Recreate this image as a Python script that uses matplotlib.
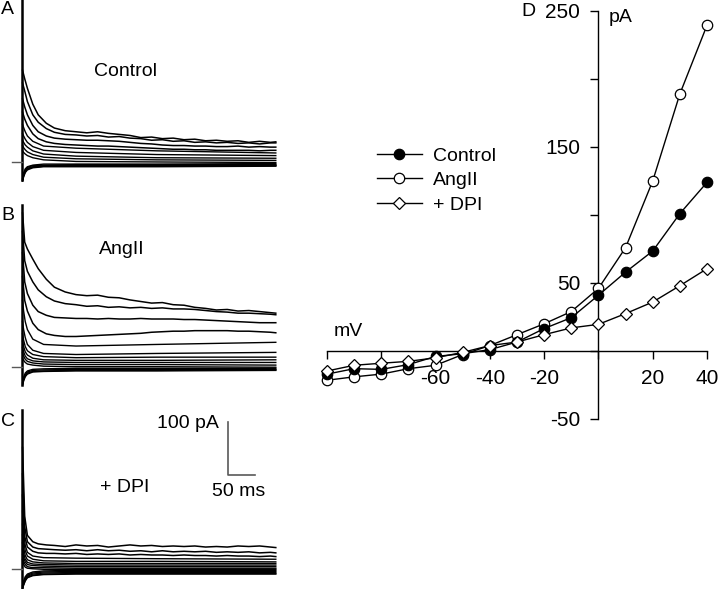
import numpy as np
import matplotlib.pyplot as plt

plt.rcParams['font.family'] = ['Liberation Sans', 'DejaVu Sans']

# ---- panel D: current-voltage relation ----
volts = [-100, -90, -80, -70, -60, -50, -40, -30, -20, -10, 0, 10, 20, 30, 40]
iv_control = [-17, -13, -13.5, -10, -4, -2, 1, 6.6, 16.5, 24.5, 41, 58, 73.5, 101, 124]
iv_angii = [-21.5, -19, -17, -13, -10.5, -2.6, 4, 12, 20, 29, 46, 76, 125, 189, 239.5]
iv_dpi = [-14.7, -10.5, -9, -7.6, -5, -1, 4, 6.6, 12, 17, 19.6, 27.5, 36, 48, 60.5]

x_ticks = [-100, -80, -60, -40, -20, 0, 20, 40]
x_ticklabels = ['', '', '-60', '-40', '-20', '', '20', '40']
y_ticks = [-50, 50, 150, 250]
y_minor = [0, 100, 200]

# ---- panels A-C: current traces (pA) vs time (ms) ----
t_long = [1, 5, 10, 20, 30, 45, 60, 80, 100, 120, 140, 160, 180, 200, 220,
          240, 260, 280, 300, 320, 340, 360, 380, 400, 420, 440, 460, 470]
t_short = [1, 3, 6, 10, 20, 40, 100, 250, 470]

ctrl_long = [
    [174, 158, 140, 110, 90, 74, 65, 60, 58, 56, 58, 55, 53, 51, 47, 48, 45, 46, 43, 44, 41, 42, 40, 41, 38, 40, 38, 39],
    [150, 135, 115, 90, 76, 64, 57, 53, 52, 50, 51, 48, 49, 46, 45, 42, 43, 40, 41, 38, 39, 37, 38, 36, 37, 35, 37, 37],
    [120, 105, 90, 70, 58, 50, 46, 44, 43, 42, 42, 41, 40, 38, 36, 35, 33, 32, 32, 31, 31, 30, 30, 31, 29, 30, 29, 29],
    [95, 82, 70, 54, 45, 39, 36, 34, 33, 32, 31, 31, 30, 29, 28, 27, 26, 25, 25, 24, 24, 23, 23, 23, 23, 22, 23, 23],
]
ctrl_short = [
    [72, 66, 58, 50, 40, 31, 27, 22, 18],
    [55, 50, 44, 38, 30, 23, 19, 15, 13],
    [42, 38, 33, 29, 22, 16, 12, 9, 8],
    [32, 28, 24, 20, 15, 10, 7, 5, 4],
    [22, 19, 16, 13, 9, 5, 2, 1, 0],
    [-30, -20, -12, -8, -5, -3, -3, -3, -2],
    [-32, -22, -14, -9, -6, -5, -4, -4, -4],
    [-33, -24, -16, -11, -8, -6, -6, -6, -5],
    [-34, -26, -18, -12, -9, -7, -7, -7, -6],
    [-35, -27, -19, -14, -10, -8, -8, -8, -7],
]

angii_long = [
    [290, 235, 222, 203, 185, 165, 150, 141, 136, 134, 135, 131, 130, 126, 123, 120, 121, 117, 116, 112, 110, 107, 108, 105, 106, 104, 102, 101],
    [255, 200, 180, 160, 145, 132, 124, 119, 117, 114, 115, 112, 113, 111, 112, 110, 111, 109, 109, 108, 106, 104, 103, 101, 101, 100, 99, 98],
    [215, 160, 138, 116, 104, 97, 93, 92, 91, 91, 90, 91, 90, 90, 91, 90, 90, 90, 89, 89, 88, 87, 86, 85, 84, 83, 83, 83],
    [170, 125, 105, 82, 70, 62, 59, 57, 57, 58, 59, 60, 61, 62, 63, 65, 66, 67, 67, 68, 68, 68, 68, 67, 67, 66, 65, 64],
]
angii_short = [
    [125, 105, 85, 70, 52, 42, 39, 42, 46],
    [85, 70, 55, 42, 31, 25, 23, 25, 27],
    [62, 50, 38, 30, 23, 19, 17, 18, 18],
    [48, 38, 28, 22, 16, 13, 12, 12, 13],
    [36, 28, 20, 15, 11, 9, 8, 8, 8],
    [26, 20, 14, 10, 7, 5, 4, 4, 3],
    [16, 12, 8, 5, 3, 1, 0, 0, -1],
    [-30, -20, -12, -8, -5, -4, -3, -3, -3],
    [-32, -23, -15, -10, -7, -6, -5, -5, -5],
    [-34, -25, -17, -12, -9, -8, -7, -7, -6],
    [-35, -27, -19, -14, -10, -9, -8, -8, -7],
]

dpi_long = [
    [230, 100, 64, 52, 48, 46, 45, 43, 46, 44, 45, 42, 44, 46, 44, 45, 43, 44, 43, 44, 42, 43, 42, 44, 43, 44, 42, 41],
    [180, 80, 52, 42, 39, 38, 37, 36, 37, 35, 37, 35, 36, 34, 35, 33, 35, 33, 34, 33, 34, 32, 33, 32, 33, 31, 32, 31],
    [140, 62, 42, 34, 31, 30, 30, 29, 30, 28, 29, 28, 29, 27, 28, 27, 27, 26, 27, 26, 26, 25, 26, 25, 25, 24, 25, 24],
]
dpi_short = [
    [110, 70, 45, 32, 25, 22, 21, 20, 19],
    [85, 55, 35, 25, 19, 16, 15, 15, 14],
    [65, 40, 26, 18, 14, 12, 11, 11, 11],
    [50, 30, 19, 13, 10, 9, 8, 8, 8],
    [38, 22, 14, 9, 7, 6, 5, 5, 5],
    [28, 15, 9, 5, 3, 3, 2, 2, 2],
    [18, 9, 4, 2, 1, 0, 0, 0, 0],
    [-30, -22, -14, -9, -5, -3, -2, -2, -2],
    [-32, -25, -17, -11, -7, -5, -4, -4, -4],
    [-34, -27, -19, -13, -9, -7, -6, -6, -6],
    [-35, -29, -21, -15, -11, -9, -8, -8, -8],
    [-36, -30, -22, -16, -12, -10, -9, -9, -9],
]

# capacitive transient at step onset (pA)
spike_hi = [306, 305, 300]
spike_lo = [-33, -34, -35]

W, H = 720, 589
MS_PX = 0.54   # pixels per ms
PA_PX = 0.53   # pixels per pA


def px_axes(fig, left, top, right, bottom):
    return fig.add_axes([left / W, 1 - bottom / H, (right - left) / W, (bottom - top) / H])


def trace_panel(fig, top, bottom, y0, long_traces, short_traces, hi, lo):
    ax = px_axes(fig, 0, top, 290, bottom)
    x0 = 22
    ax.set_xlim(-x0 / MS_PX, (290 - x0) / MS_PX)
    ax.set_ylim((y0 - bottom) / PA_PX, (y0 - top) / PA_PX)
    ax.axis('off')
    for tr in short_traces:
        ax.plot(t_short, tr, color='black', lw=1.0)
    for tr in long_traces:
        ax.plot(t_long, tr, color='black', lw=1.1)
    ax.plot([0, 0], [lo, hi], color='black', lw=1.8, clip_on=False)
    ax.plot([-18, 0], [0, 0], color='0.35', lw=1.0)
    return ax


fig = plt.figure(figsize=(W / 100, H / 100), dpi=100)

ax_a = trace_panel(fig, 0, 197, 162.5, ctrl_long, ctrl_short, spike_hi[0], spike_lo[0])
ax_b = trace_panel(fig, 200, 395, 366.7, angii_long, angii_short, spike_hi[1], spike_lo[1])
ax_c = trace_panel(fig, 398, 589, 569.3, dpi_long, dpi_short, spike_hi[2], spike_lo[2])

# scale bar in panel C
sb_t = (228 - 22) / MS_PX
sb_y = (569.3 - 475) / PA_PX
ax_c.plot([sb_t, sb_t, sb_t + 50], [sb_y + 100, sb_y, sb_y], color='0.35', lw=1.2)


def ftext(x, y, s, size=14, **kw):
    fig.text(x / W, 1 - y / H, s, fontsize=size, va='center', **kw)


ftext(1, 9, 'A', ha='left')
ftext(1, 216, 'B', ha='left')
ftext(1, 421, 'C', ha='left')
ftext(528, 12, 'D', ha='center')
ftext(126, 71, 'Control', ha='center')
ftext(122, 250, 'AngII', ha='center')
ftext(125, 487, '+ DPI', ha='center')
ftext(188, 424, '100 pA', ha='center')
ftext(239, 491, '50 ms', ha='center')

# ---- panel D ----
ax = px_axes(fig, 327, 11, 707, 419)
ax.set_xlim(-100, 40)
ax.set_ylim(-50, 250)
ax.spines['left'].set_position(('data', 0))
ax.spines['bottom'].set_position(('data', 0))
ax.spines['top'].set_visible(False)
ax.spines['right'].set_visible(False)
for s in ('left', 'bottom'):
    ax.spines[s].set_linewidth(1.0)

ax.set_xticks(x_ticks)
ax.set_xticklabels(x_ticklabels)
ax.set_yticks(y_ticks)
ax.set_yticklabels([str(v) for v in y_ticks])
ax.set_yticks(y_minor, minor=True)
ax.tick_params(axis='both', which='both', direction='out', length=6, width=1.0,
               labelsize=15, pad=7)

mk = dict(color='black', lw=1.0, markersize=7.5, markeredgewidth=0.9,
          markeredgecolor='black', clip_on=False)
ax.plot(volts, iv_control, marker='o', markerfacecolor='black', label='Control', zorder=4, **mk)
ax.plot(volts, iv_angii, marker='o', markerfacecolor='white', label='AngII', zorder=3, **mk)
ax.plot(volts, iv_dpi, marker='D', markerfacecolor='white', label='+ DPI', zorder=5,
        **{**mk, 'markersize': 6.5})

ftext(348, 331, 'mV', ha='center')
ftext(621, 17, 'pA', ha='center')

ax.legend(loc='upper left', bbox_to_anchor=(377 / W, 1 - 147 / H), bbox_transform=fig.transFigure,
          frameon=False, fontsize=14, handlelength=2.3, handletextpad=0.6,
          labelspacing=0.36, borderpad=0, borderaxespad=0)

fig.savefig('out.png', dpi=100)
